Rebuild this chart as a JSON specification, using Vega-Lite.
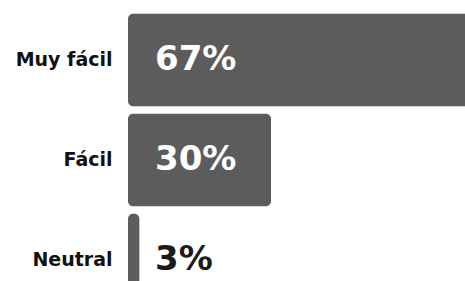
{
  "$schema": "https://vega.github.io/schema/vega-lite/v6.json",
  "padding": {"left": 0, "top": 10, "right": 0, "bottom": 0},
  "width": 337,
  "height": {"step": 100},
  "data": {"values": [
    {"category": "Muy fácil", "value": 0.67},
    {"category": "Fácil", "value": 0.30},
    {"category": "Neutral", "value": 0.03}
  ]},
  "encoding": {
    "y": {
      "field": "category", "type": "nominal", "sort": null,
      "scale": {"paddingInner": 0.075, "paddingOuter": 0.0375},
      "axis": {
        "title": null, "domain": false, "ticks": false, "tickSize": 0, "grid": false,
        "labelPadding": 16, "labelFont": "DejaVu Sans", "labelFontSize": 19,
        "labelFontWeight": "bold", "labelColor": "#111111",
        "minExtent": 128, "maxExtent": 128
      }
    }
  },
  "layer": [
    {
      "mark": {"type": "bar", "color": "#5c5c5c", "cornerRadiusEnd": 5},
      "encoding": {
        "x": {
          "field": "value", "type": "quantitative",
          "scale": {"type": "pow", "exponent": 1.1, "domain": [0, 0.654], "nice": false, "zero": true},
          "axis": null
        },
        "x2": {"datum": 0}
      }
    },
    {
      "mark": {"type": "text", "align": "left", "baseline": "middle", "dx": 27,
               "font": "DejaVu Sans", "fontWeight": "bold", "fontSize": 34},
      "encoding": {
        "x": {"datum": 0, "type": "quantitative"},
        "text": {"field": "value", "type": "quantitative", "format": ".0%"},
        "color": {
          "condition": {"test": "datum.value < 0.1", "value": "#1a1a1a"},
          "value": "#ffffff"
        }
      }
    }
  ],
  "config": {"view": {"stroke": null}}
}
